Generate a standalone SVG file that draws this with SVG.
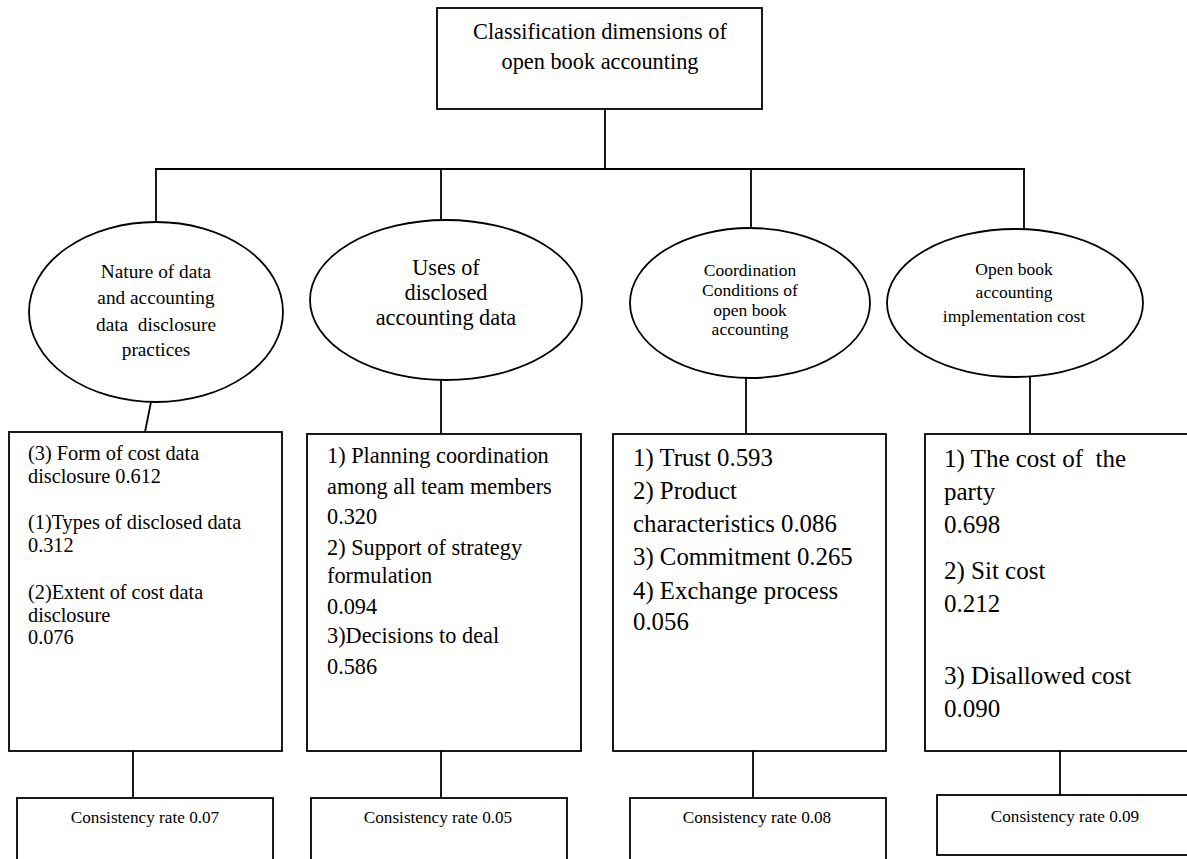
<svg xmlns="http://www.w3.org/2000/svg" width="1187" height="859" viewBox="0 0 1187 859" font-family="'Liberation Serif', 'DejaVu Serif', serif">
<style>
.s{fill:#fff;stroke:#000;stroke-width:1.8}
.c{fill:none;stroke:#000;stroke-width:1.8}
text{font-family:'Liberation Serif','DejaVu Serif',serif;fill:#000;white-space:pre}
.m{text-anchor:middle}
</style>
<rect width="1187" height="859" fill="#fff"/>
<g id="connectors">
<line class="c" x1="605" y1="109" x2="605" y2="169"/>
<line class="c" x1="155" y1="169" x2="1025" y2="169"/>
<line class="c" x1="156" y1="169" x2="156" y2="222"/>
<line class="c" x1="441" y1="169" x2="441" y2="220"/>
<line class="c" x1="751" y1="169" x2="751" y2="228"/>
<line class="c" x1="1024" y1="169" x2="1024" y2="229"/>
<line class="c" x1="151" y1="402" x2="145" y2="432"/>
<line class="c" x1="441" y1="380" x2="441" y2="434"/>
<line class="c" x1="746" y1="378" x2="746" y2="434"/>
<line class="c" x1="1030" y1="377" x2="1030" y2="434"/>
<line class="c" x1="133" y1="751" x2="133" y2="798"/>
<line class="c" x1="441" y1="751" x2="441" y2="798"/>
<line class="c" x1="753" y1="751" x2="753" y2="798"/>
<line class="c" x1="1060" y1="751" x2="1060" y2="795"/>
</g>
<g id="root">
<rect class="s" x="437" y="8" width="325" height="101"/>
<text class="m" x="600" y="39" font-size="22.3">Classification dimensions of</text>
<text class="m" x="600" y="69" font-size="22.3">open book accounting</text>
</g>
<g id="dim1">
<ellipse class="s" cx="156" cy="312" rx="127" ry="90"/>
<text class="m" x="156" y="278" font-size="19.3">Nature of data</text>
<text class="m" x="156" y="304" font-size="19.3">and accounting</text>
<text class="m" x="156" y="331" font-size="19.3">data  disclosure</text>
<text class="m" x="156" y="356" font-size="19.3">practices</text>
</g>
<g id="dim2">
<ellipse class="s" cx="446" cy="300" rx="136" ry="80"/>
<text class="m" x="446" y="275" font-size="22.3">Uses of</text>
<text class="m" x="446" y="300" font-size="22.3">disclosed</text>
<text class="m" x="446" y="325" font-size="22.3">accounting data</text>
</g>
<g id="dim3">
<ellipse class="s" cx="750" cy="303" rx="120" ry="75"/>
<text class="m" x="750" y="276" font-size="17.5">Coordination</text>
<text class="m" x="750" y="296" font-size="17.5">Conditions of</text>
<text class="m" x="750" y="316" font-size="17.5">open book</text>
<text class="m" x="750" y="335" font-size="17.5">accounting</text>
</g>
<g id="dim4">
<ellipse class="s" cx="1015" cy="303" rx="128" ry="74"/>
<text class="m" x="1014" y="275" font-size="17.5">Open book</text>
<text class="m" x="1014" y="298" font-size="17.5">accounting</text>
<text class="m" x="1014" y="322" font-size="17.5">implementation cost</text>
</g>
<g id="box1">
<rect class="s" x="9" y="432" width="273" height="319"/>
<text x="28" y="460" font-size="20.3">(3) Form of cost data</text>
<text x="28" y="483" font-size="20.3">disclosure 0.612</text>
<text x="28" y="529" font-size="20.3">(1)Types of disclosed data</text>
<text x="28" y="552" font-size="20.3">0.312</text>
<text x="28" y="599" font-size="20.3">(2)Extent of cost data</text>
<text x="28" y="622" font-size="20.3">disclosure</text>
<text x="28" y="644" font-size="20.3">0.076</text>
</g>
<g id="box2">
<rect class="s" x="307" y="434" width="274" height="317"/>
<text x="327" y="463" font-size="22.3">1) Planning coordination</text>
<text x="327" y="494" font-size="22.3">among all team members</text>
<text x="327" y="524" font-size="22.3">0.320</text>
<text x="327" y="555" font-size="22.3">2) Support of strategy</text>
<text x="327" y="583" font-size="22.3">formulation</text>
<text x="327" y="614" font-size="22.3">0.094</text>
<text x="327" y="643" font-size="22.3">3)Decisions to deal</text>
<text x="327" y="674" font-size="22.3">0.586</text>
</g>
<g id="box3">
<rect class="s" x="613" y="434" width="273" height="317"/>
<text x="633" y="466" font-size="24.8">1) Trust 0.593</text>
<text x="633" y="499" font-size="24.8">2) Product</text>
<text x="633" y="532" font-size="24.8">characteristics 0.086</text>
<text x="633" y="565" font-size="24.8">3) Commitment 0.265</text>
<text x="633" y="599" font-size="24.8">4) Exchange process</text>
<text x="633" y="630" font-size="24.8">0.056</text>
</g>
<g id="box4">
<rect class="s" x="925" y="434" width="275" height="317"/>
<text x="944" y="467" font-size="25">1) The cost of  the</text>
<text x="944" y="500" font-size="25">party</text>
<text x="944" y="533" font-size="25">0.698</text>
<text x="944" y="579" font-size="25">2) Sit cost</text>
<text x="944" y="612" font-size="25">0.212</text>
<text x="944" y="684" font-size="25">3) Disallowed cost</text>
<text x="944" y="717" font-size="25">0.090</text>
</g>
<g id="cr1">
<rect class="s" x="17" y="798" width="256" height="70"/>
<text class="m" x="145" y="823" font-size="17.2">Consistency rate 0.07</text>
</g>
<g id="cr2">
<rect class="s" x="311" y="798" width="256" height="70"/>
<text class="m" x="438" y="823" font-size="17.2">Consistency rate 0.05</text>
</g>
<g id="cr3">
<rect class="s" x="630" y="798" width="256" height="70"/>
<text class="m" x="757" y="823" font-size="17.2">Consistency rate 0.08</text>
</g>
<g id="cr4">
<rect class="s" x="937" y="795" width="263" height="60"/>
<text class="m" x="1065" y="822" font-size="17.2">Consistency rate 0.09</text>
</g>
</svg>
